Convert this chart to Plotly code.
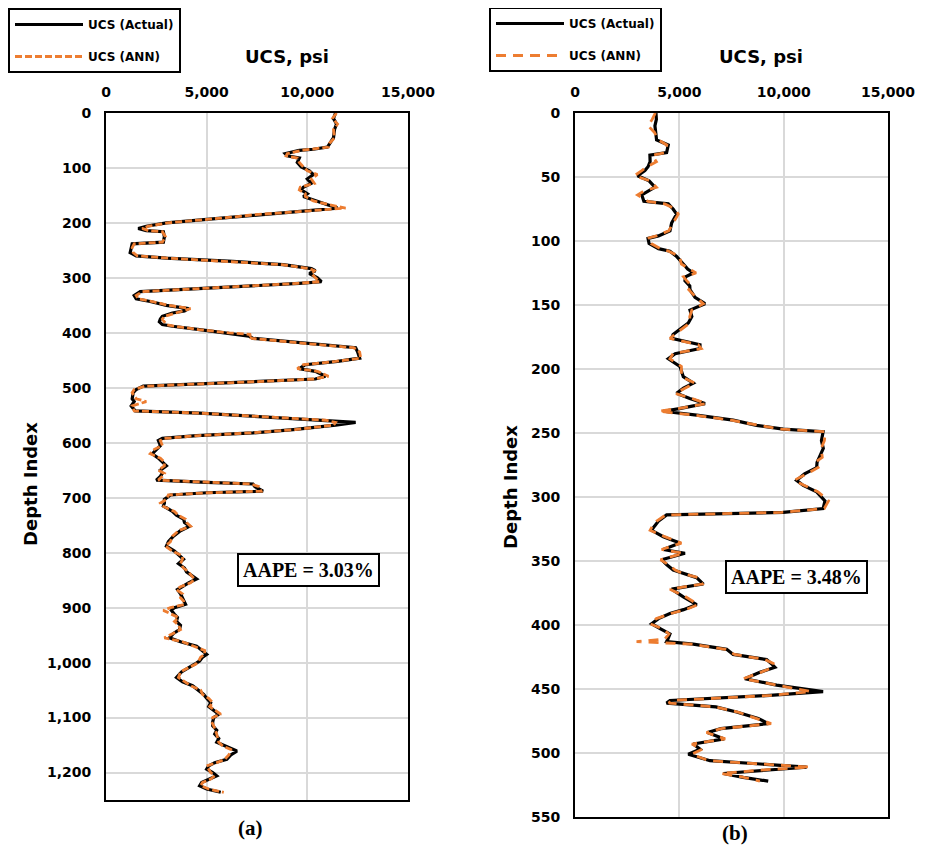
import plotly.graph_objects as go

# ---------------- Data: panel (a) ----------------
depth_a = [0, 10, 20, 30, 45, 55, 62, 66, 68, 74,
           78, 82, 90, 98, 105, 112, 120, 128, 135, 140,
           147, 152, 160, 167, 173, 178, 185, 190, 195, 200,
           206, 210, 214, 216, 225, 235, 238, 245, 254, 260,
           264, 270, 276, 283, 287, 292, 300, 307, 310, 316,
           320, 325, 332, 338, 343, 350, 356, 360, 364, 370,
           375, 380, 385, 388, 394, 400, 403, 406, 410, 418,
           422, 427, 435, 446, 452, 458, 465, 470, 479, 484,
           488, 492, 497, 503, 509, 520, 525, 533, 542, 546,
           551, 555, 559, 563, 568, 576, 582, 587, 592, 596,
           605, 612, 620, 628, 635, 642, 650, 656, 661, 668,
           672, 675, 680, 688, 691, 695, 703, 710, 715, 725,
           732, 739, 745, 752, 760, 770, 780, 788, 797, 806,
           812, 820, 828, 835, 842, 848, 855, 862, 867, 875,
           882, 888, 894, 900, 905, 912, 918, 925, 932, 940,
           947, 955, 962, 970, 978, 985, 990, 997, 1003, 1009,
           1017, 1027, 1035, 1042, 1050, 1058, 1065, 1073, 1080, 1088,
           1094, 1100, 1108, 1115, 1123, 1130, 1138, 1145, 1152, 1158,
           1161, 1168, 1176, 1182, 1188, 1194, 1200, 1206, 1212, 1218,
           1224, 1230, 1236]
ucs_actual_a = [11400, 11300, 11450, 11350, 11300, 11150, 11000, 10300, 9600, 8900,
                9000, 9600, 9500, 9700, 10100, 10300, 10000, 10200, 9800, 9700,
                10000, 9800, 10400, 11000, 11500, 10000, 7500, 6000, 4650, 3000,
                2000, 1600, 2000, 2850, 2900, 2850, 1300, 1250, 1200, 1500,
                3000, 6300, 8800, 10200, 10400, 10100, 10500, 10700, 9600, 6500,
                4500, 1700, 1400, 1500, 2200, 3000, 4100, 3900, 3300, 2800,
                2700, 2650, 2800, 3300, 4650, 6000, 6650, 7100, 7300, 9600,
                11000, 12400, 12500, 12600, 11500, 9900, 9600, 10400, 10900, 10400,
                7900, 5000, 1850, 1500, 1350, 1300, 1400, 1250, 1450, 4650,
                7000, 8800, 11000, 12400, 11400, 9300, 7300, 4500, 2800, 2600,
                2700, 2500, 2300, 2600, 2800, 3000, 2700, 2800, 2700, 2500,
                5000, 7300, 7400, 7800, 5000, 3200, 2900, 2900, 2850, 3300,
                3500, 3850, 3900, 4150, 3700, 3350, 3100, 3000, 3400, 3700,
                3850, 3600, 3900, 4000, 4300, 4500, 4100, 3800, 3550, 3700,
                3800, 3900, 3950, 3400, 3250, 3400, 3550, 3500, 3700, 3650,
                3350, 3150, 3700, 4500, 4800, 5000, 4800, 4650, 4400, 4150,
                3750, 3500, 3800, 4300, 4600, 4850, 5000, 5200, 5100, 5400,
                5600, 5350, 5300, 5300, 5500, 5400, 5600, 5500, 5900, 6300,
                6500, 6200, 6000, 5400, 5100, 5000, 5300, 5500, 5100, 4750,
                4650, 5000, 5700]
ucs_ann_a = [11450, 11250, 11500, 11300, 11350, 11100, 11050, 10200, 9700, 9000,
             8950, 9500, 9600, 9800, 10000, 10500, 10200, 10350, 9650, 9600,
             9900, 9900, 10300, 11100, 11900, 10100, 7400, 6100, 4600, 3050,
             2100, 1800, 2100, 2800, 2950, 2800, 1400, 1300, 1350, 1550,
             3050, 6200, 8750, 10100, 10350, 10200, 10400, 10600, 9500, 6600,
             4400, 1800, 1500, 1600, 2300, 3100, 4200, 3800, 3400, 2900,
             2800, 2900, 3000, 3400, 4600, 6100, 7200, 7050, 7250, 9500,
             10900, 12300, 12600, 12650, 11400, 9800, 9500, 10500, 11050, 10300,
             8000, 5100, 1950, 1400, 1300, 1500, 2000, 1300, 1400, 4600,
             6900, 8700, 10900, 11400, 11300, 9400, 7200, 4600, 2900, 2700,
             2800, 2400, 2200, 2700, 2900, 2900, 2600, 2900, 2800, 2600,
             5100, 7200, 7600, 7700, 5100, 3100, 3000, 2700, 2800, 3400,
             3600, 3950, 4000, 4200, 3600, 3300, 3200, 2950, 3300, 3800,
             3800, 3700, 3850, 4100, 4250, 4400, 4200, 3700, 3500, 3800,
             3700, 3850, 3900, 3200, 2850, 3300, 3600, 3400, 3600, 3700,
             3300, 2900, 3800, 4400, 4900, 4900, 4700, 4600, 4450, 4100,
             3700, 3600, 3900, 4200, 4700, 4800, 5100, 5300, 5150, 5500,
             5700, 5300, 5250, 5350, 5450, 5500, 5550, 5600, 5800, 6200,
             6200, 6100, 5900, 5500, 5000, 5100, 5200, 5400, 5200, 4800,
             4700, 5100, 5850]

# ---------------- Data: panel (b) ----------------
depth_b = [0, 5, 10, 15, 21, 25, 31, 33, 38, 42,
           45, 49, 53, 58, 61, 64, 69, 71, 75, 79,
           86, 92, 96, 98, 102, 106, 108, 112, 118, 122,
           125, 128, 131, 135, 138, 144, 149, 154, 159, 164,
           169, 173, 176, 181, 184, 188, 192, 198, 206, 211,
           215, 219, 223, 227, 231, 233, 236, 240, 244, 247,
           249, 256, 262, 269, 273, 277, 282, 287, 291, 296,
           303, 309, 312, 314, 319, 323, 326, 331, 336, 341,
           344, 349, 353, 357, 360, 363, 368, 372, 378, 384,
           388, 391, 395, 399, 403, 407, 411, 413, 415, 419,
           423, 427, 430, 433, 437, 442, 447, 452, 455, 459,
           461, 464, 468, 473, 477, 481, 484, 489, 493, 497,
           501, 506, 511, 513, 516, 519, 522]
ucs_actual_b = [3880, 3900, 3830, 3850, 3910, 4470, 4390, 3590, 3600, 3500,
                3350, 3000, 3550, 3830, 3500, 3200, 3300, 4470, 4700, 4870,
                4630, 4550, 4000, 3500, 3550, 4000, 4550, 4870, 5190, 5400,
                5670, 5300, 5270, 5500, 5510, 5750, 6230, 5510, 5600, 5430,
                5030, 4700, 4630, 5990, 5990, 4800, 4470, 5030, 5190, 5670,
                5200, 4870, 5500, 6230, 5000, 4230, 5830, 7580, 8700, 9980,
                11890, 11810, 11900, 11700, 11600, 11580, 11000, 10620, 10940, 11580,
                11980, 11890, 9980, 4390, 3990, 3800, 3670, 4230, 5030, 4230,
                5270, 4150, 4400, 4710, 5300, 5830, 6150, 4630, 5190, 5830,
                5200, 4550, 4000, 3670, 4100, 4550, 4450, 4390, 5670, 7270,
                7580, 9180, 9400, 9580, 8860, 8140, 9660, 11890, 9340, 4550,
                4390, 6750, 7740, 8780, 9260, 6990, 6350, 7150, 5670, 5990,
                5430, 6470, 11100, 9340, 7110, 8060, 9260]
ucs_ann_b = [3850, 3700, 3500, 3800, 4000, 4400, 4300, 3700, 3900, 3450,
             3200, 2850, 3600, 3900, 3300, 3000, 3500, 4300, 4800, 4950,
             4700, 4500, 3900, 3450, 3650, 4100, 4500, 5000, 5100, 5500,
             5800, 5200, 5350, 5600, 5450, 5800, 6150, 5600, 5500, 5500,
             5100, 4800, 4550, 5900, 6050, 4700, 4550, 5100, 5100, 5750,
             5300, 4800, 5600, 6300, 4900, 4000, 5700, 7500, 8800, 9900,
             12000, 11950, 11800, 11850, 11500, 11650, 11100, 10500, 11000, 11650,
             12150, 11950, 9900, 4350, 3900, 3700, 3600, 4300, 5100, 4150,
             5200, 4100, 4500, 4800, 5200, 5900, 6100, 4550, 5300, 5900,
             5300, 4600, 3900, 3600, 4200, 4500, 4300, 2950, 5600, 7200,
             7650, 9100, 9500, 9500, 8900, 8050, 9700, 11300, 9400, 4600,
             4500, 6700, 7800, 8700, 9400, 7000, 6300, 7200, 5600, 6100,
             5600, 6400, 11250, 9200, 7000, 8100, 8860]

x_ticks = [0, 5000, 10000, 15000]
aape_a = "AAPE = 3.03%"
aape_b = "AAPE = 3.48%"

# page is 932x855 with an 8px body margin -> figure is 916x839 placed at (8, 8)
OFF = 8
W, H = 932 - 2 * OFF, 855 - 2 * OFF
BLACK = "#000000"
ORANGE = "#ED7D31"
SANS = "DejaVu Sans"
SERIF = "Liberation Serif"

def px(x):
    return (x - OFF) / W

def py(y):
    return 1 - (y - OFF) / H

fig = go.Figure()

fig.add_trace(go.Scatter(x=ucs_actual_a, y=depth_a, mode="lines", name="UCS (Actual)",
                         line=dict(color=BLACK, width=3.2), xaxis="x", yaxis="y",
                         legend="legend", legendgroup="a1"))
fig.add_trace(go.Scatter(x=ucs_ann_a, y=depth_a, mode="lines", name="UCS (ANN)",
                         line=dict(color=ORANGE, width=2.8, dash="7px,3px"), xaxis="x", yaxis="y",
                         legend="legend", legendgroup="a2"))
fig.add_trace(go.Scatter(x=ucs_actual_b, y=depth_b, mode="lines", name="UCS (Actual)",
                         line=dict(color=BLACK, width=3.2), xaxis="x2", yaxis="y2",
                         legend="legend2", legendgroup="b1"))
fig.add_trace(go.Scatter(x=ucs_ann_b, y=depth_b, mode="lines", name="UCS (ANN)",
                         line=dict(color=ORANGE, width=2.8, dash="10px,7px"), xaxis="x2", yaxis="y2",
                         legend="legend2", legendgroup="b2"))

tickfont = dict(family=SANS, size=14, color=BLACK, weight="bold")
xcommon = dict(range=[0, 15000], tickvals=x_ticks, tickformat=",", side="top",
               showgrid=True, gridcolor="#d9d9d9", gridwidth=1.5, zeroline=False,
               showline=True, linecolor=BLACK, linewidth=2, mirror=True, automargin=False,
               tickfont=tickfont, ticks="", ticklabelstandoff=8, fixedrange=True)
ycommon = dict(showgrid=True, gridcolor="#d9d9d9", gridwidth=1.5, zeroline=False,
               showline=True, linecolor=BLACK, linewidth=2, mirror=True, automargin=False,
               tickfont=tickfont, ticks="", tickformat=",", ticklabelstandoff=10)

legend_common = dict(bordercolor=BLACK, borderwidth=2, bgcolor="white",
                     font=dict(family=SANS, size=12, color=BLACK, weight="bold"),
                     itemwidth=68, traceorder="grouped", tracegroupgap=13,
                     xanchor="left", yanchor="top", xref="paper", yref="paper")

fig.update_layout(
    width=W, height=H,
    margin=dict(l=0, r=0, t=0, b=0, autoexpand=False),
    paper_bgcolor="white", plot_bgcolor="white",
    xaxis=dict(domain=[px(106), px(408)], anchor="y", **xcommon),
    yaxis=dict(domain=[py(800), py(113)], anchor="x", range=[1250, 0], dtick=100, **ycommon),
    xaxis2=dict(domain=[px(575), px(888)], anchor="y2", **xcommon),
    yaxis2=dict(domain=[py(817), py(113)], anchor="x2", range=[550, 0], dtick=50, **ycommon),
    legend=dict(x=px(8), y=py(8), **legend_common),
    legend2=dict(x=px(489), y=py(7), **legend_common),
)

annots = []
for cx in (287, 761):
    annots.append(dict(text="UCS, psi", x=px(cx), y=py(57), xref="paper", yref="paper",
                       showarrow=False, xanchor="center", yanchor="middle",
                       font=dict(family=SANS, size=18, color=BLACK, weight="bold")))
for cx, cy in ((30, 484), (510, 487)):
    annots.append(dict(text="Depth Index", x=px(cx), y=py(cy), xref="paper", yref="paper",
                       showarrow=False, textangle=-90, xanchor="center", yanchor="middle",
                       font=dict(family=SANS, size=18, color=BLACK, weight="bold")))
for txt, cx, cy in ((aape_a, 308, 570), (aape_b, 796, 577)):
    annots.append(dict(text=txt, x=px(cx), y=py(cy), xref="paper", yref="paper",
                       showarrow=False, xanchor="center", yanchor="middle",
                       bordercolor=BLACK, borderwidth=2, borderpad=4, bgcolor="white",
                       font=dict(family=SERIF, size=20, color=BLACK, weight="bold")))
for txt, cx, cy in (("(a)", 250, 828), ("(b)", 735, 833)):
    annots.append(dict(text=txt, x=px(cx), y=py(cy), xref="paper", yref="paper",
                       showarrow=False, xanchor="center", yanchor="middle",
                       font=dict(family=SERIF, size=21, color=BLACK, weight="bold")))
fig.update_layout(annotations=annots)

fig.write_html("out.html")
